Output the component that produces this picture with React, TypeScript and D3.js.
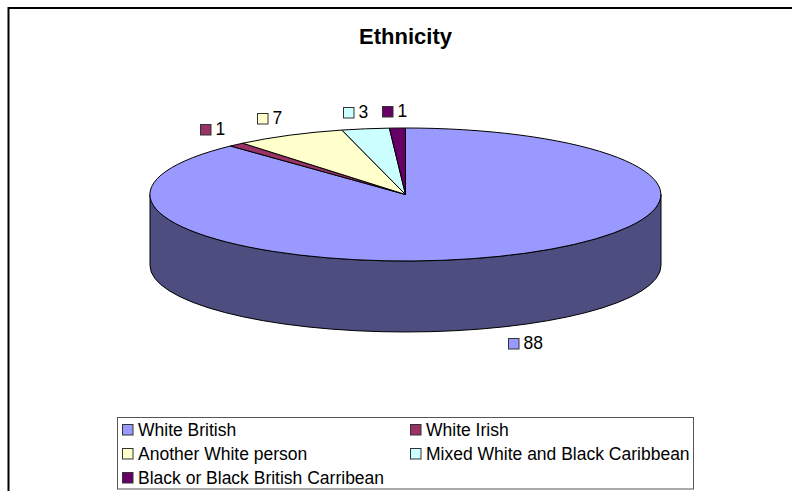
import React from "react";
import * as d3 from "d3";

const categories = ["White British", "White Irish", "Another White person", "Mixed White and Black Caribbean", "Black or Black British Carribean"];
const values = [88, 1, 7, 3, 1];
const sliceColors = ["#9999ff", "#993366", "#ffffcc", "#ccffff", "#660066"];
const wallColor = "#4d4d80";
const labelAnchors: [number, number][] = [[508, 338], [200, 124], [257, 113], [343, 107], [382, 106]];
const legendCells: [number, number][] = [[122, 424], [410, 424], [122, 448], [410, 448], [122, 472]];

const W = 792;
const H = 491;
const font = "'Liberation Sans', Arial, sans-serif";

function Swatch({ x, y, fill }: { x: number; y: number; fill: string }) {
  return <rect x={x + 0.5} y={y + 0.5} width={10.5} height={10.5} fill={fill} stroke="#333" strokeWidth={1} />;
}

export default function App() {
  const cx = 405.5, cy = 194.5, rx = 255.5, ry = 66.5, depth = 71;
  const sx = d3.scaleLinear().domain([-1, 1]).range([cx - rx, cx + rx]);
  const sy = d3.scaleLinear().domain([-1, 1]).range([cy - ry, cy + ry]);
  const arcs = d3.pie<number>().sort(null)(values);
  const unitArc = d3.arc<d3.PieArcDatum<number>>().innerRadius(0).outerRadius(1);
  const wall = `M${sx(-1)},${sy(0)}A${rx},${ry} 0 0 0 ${sx(1)},${sy(0)}L${sx(1)},${sy(0) + depth}A${rx},${ry} 0 0 1 ${sx(-1)},${sy(0) + depth}Z`;

  return (
    <svg width={W} height={H} style={{ position: "fixed", left: 0, top: 0, background: "#fff" }} fontFamily={font}>
      <path d={`M8.5,${H}V8H${W}`} fill="none" stroke="#000" strokeWidth={2} />
      <text x={405.5} y={44} textAnchor="middle" fontSize={22} fontWeight="bold" fill="#000">Ethnicity</text>

      <path d={wall} fill={wallColor} stroke="#000" strokeWidth={1} />
      <g transform={`translate(${cx},${cy}) scale(${rx},${ry})`}>
        {arcs.map((a, i) => (
          <path key={i} d={unitArc(a) ?? ""} fill={sliceColors[i]} stroke="#000" strokeWidth={1} vectorEffect="non-scaling-stroke" />
        ))}
      </g>

      {values.map((v, i) => (
        <g key={i}>
          <Swatch x={labelAnchors[i][0]} y={labelAnchors[i][1]} fill={sliceColors[i]} />
          <text x={labelAnchors[i][0] + 15.5} y={labelAnchors[i][1] + 11} fontSize={17.5} fill="#000">{v}</text>
        </g>
      ))}

      <rect x={117.5} y={417.5} width={576} height={71.5} fill="#fff" stroke="#555" strokeWidth={1} />
      {categories.map((c, i) => (
        <g key={c}>
          <Swatch x={legendCells[i][0]} y={legendCells[i][1]} fill={sliceColors[i]} />
          <text x={legendCells[i][0] + 16} y={legendCells[i][1] + 12} fontSize={17.5} fill="#000">{c}</text>
        </g>
      ))}
    </svg>
  );
}
